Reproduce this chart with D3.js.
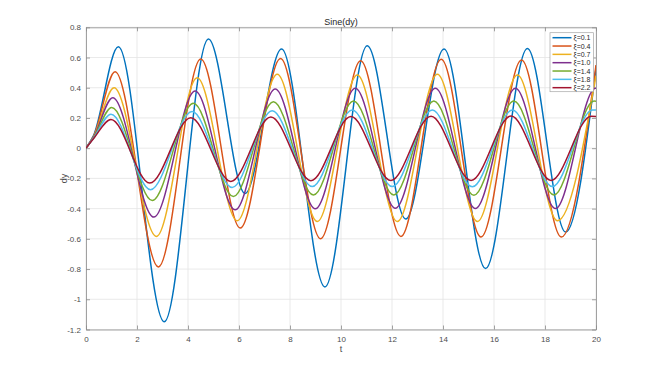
<!DOCTYPE html>
<html>
<head>
<meta charset="utf-8">
<script src="https://cdn.jsdelivr.net/npm/d3@7"></script>
<style>
    body { margin: 0; background: #fff; }
    svg text { font-family: "Liberation Sans", Arial, sans-serif; }
</style>
</head>
<body>
<svg width="660" height="371"></svg>
<script>
// tick values
const xTicks = [0, 2, 4, 6, 8, 10, 12, 14, 16, 18, 20];
const yTicks = [-1.2, -1, -0.8, -0.6, -0.4, -0.2, 0, 0.2, 0.4, 0.6, 0.8];

// legend names (damping ratio)
const names = ["ξ=0.1", "ξ=0.4", "ξ=0.7", "ξ=1.0", "ξ=1.4", "ξ=1.8", "ξ=2.2"];

// start, peaks / troughs and end value, for each damping ratio
const t01 = [0, 0.3, 1.27, 3.07, 4.80, 6.24, 7.67, 9.37, 11.03, 12.54, 14.04, 15.67, 17.31, 18.81, 20];
const y01 = [0, 0.085, 0.671, -1.149, 0.722, -0.30, 0.656, -0.918, 0.678, -0.469, 0.656, -0.797, 0.66, -0.555, 0.53];

const t04 = [0, 0.3, 1.14, 2.84, 4.50, 6.05, 7.63, 9.20, 10.77, 12.35, 13.93, 15.49, 17.08, 18.64, 20];
const y04 = [0, 0.08, 0.506, -0.786, 0.59, -0.528, 0.594, -0.599, 0.579, -0.584, 0.588, -0.588, 0.583, -0.588, 0.55];

const t07 = [0, 0.3, 1.10, 2.76, 4.36, 5.93, 7.50, 9.07, 10.64, 12.21, 13.78, 15.35, 16.92, 18.49, 20];
const y07 = [0, 0.077, 0.40, -0.584, 0.466, -0.48, 0.489, -0.485, 0.484, -0.485, 0.489, -0.485, 0.484, -0.48, 0.48];

const t10 = [0, 0.3, 1.05, 2.66, 4.28, 5.85, 7.42, 8.99, 10.56, 12.13, 13.70, 15.27, 16.84, 18.41, 19.98, 20];
const y10 = [0, 0.074, 0.334, -0.456, 0.378, -0.408, 0.392, -0.401, 0.396, -0.398, 0.396, -0.40, 0.396, -0.40, 0.397, 0.397];

const t14 = [0, 0.3, 1.01, 2.60, 4.21, 5.78, 7.35, 8.92, 10.49, 12.07, 13.64, 15.21, 16.78, 18.35, 19.92, 20];
const y14 = [0, 0.07, 0.27, -0.346, 0.297, -0.32, 0.308, -0.31, 0.313, -0.31, 0.312, -0.312, 0.312, -0.31, 0.312, 0.311];

const t18 = [0, 0.3, 0.98, 2.53, 4.16, 5.73, 7.30, 8.87, 10.44, 12.01, 13.58, 15.15, 16.72, 18.29, 19.86, 20];
const y18 = [0, 0.067, 0.225, -0.275, 0.242, -0.26, 0.248, -0.254, 0.253, -0.254, 0.253, -0.256, 0.253, -0.254, 0.253, 0.252];

const t22 = [0, 0.3, 0.98, 2.50, 4.11, 5.68, 7.25, 8.82, 10.39, 11.96, 13.53, 15.10, 16.67, 18.24, 19.81, 20];
const y22 = [0, 0.064, 0.19, -0.231, 0.202, -0.22, 0.207, -0.215, 0.209, -0.214, 0.212, -0.214, 0.213, -0.214, 0.212, 0.21];

const allT = [t01, t04, t07, t10, t14, t18, t22];
const allY = [y01, y04, y07, y10, y14, y18, y22];

// matlab default line colours
const colors = ["#0072BD", "#D95319", "#EDB120", "#7E2F8E", "#77AC30", "#4DBEEE", "#A2142F"];

const plotLeft = 86, plotRight = 596, plotTop = 27.3, plotBottom = 329.5;

const xScale = d3.scaleLinear()
    .domain([0, 20])
    .range([plotLeft, plotRight]);

const yScale = d3.scaleLinear()
    .domain([-1.2, 0.8])
    .range([plotBottom, plotTop]);

const fmt = v => String(Math.round(v * 10) / 10);

const svg = d3.select("svg");

svg.append("defs").append("clipPath")
    .attr("id", "plotClip")
    .append("rect")
    .attr("x", plotLeft).attr("y", plotTop)
    .attr("width", plotRight - plotLeft).attr("height", plotBottom - plotTop);

// grid
const grid = svg.append("g").attr("class", "grid");
grid.selectAll("line.gx")
    .data(xTicks)
    .enter().append("line")
    .attr("x1", d => xScale(d)).attr("x2", d => xScale(d))
    .attr("y1", plotTop).attr("y2", plotBottom)
    .attr("stroke", "#e3e3e3")
    .attr("stroke-width", 0.8);
grid.selectAll("line.gy")
    .data(yTicks)
    .enter().append("line")
    .attr("y1", d => yScale(d)).attr("y2", d => yScale(d))
    .attr("x1", plotLeft).attr("x2", plotRight)
    .attr("stroke", "#e3e3e3")
    .attr("stroke-width", 0.8);

// axes, ticks pointing inward like matlab
const axisColor = "#8c8c8c";
const textColor = "#4d4d4d";

const xAxis = svg.append("g")
    .attr("transform", `translate(0,${plotBottom})`)
    .call(d3.axisBottom(xScale).tickValues(xTicks).tickFormat(fmt).tickSizeInner(-4).tickSizeOuter(0).tickPadding(7));
const yAxis = svg.append("g")
    .attr("transform", `translate(${plotLeft},0)`)
    .call(d3.axisLeft(yScale).tickValues(yTicks).tickFormat(fmt).tickSizeInner(-4).tickSizeOuter(0).tickPadding(5));
const xTop = svg.append("g")
    .attr("transform", `translate(0,${plotTop})`)
    .call(d3.axisTop(xScale).tickValues(xTicks).tickFormat("").tickSizeInner(-4).tickSizeOuter(0));
const yRight = svg.append("g")
    .attr("transform", `translate(${plotRight},0)`)
    .call(d3.axisRight(yScale).tickValues(yTicks).tickFormat("").tickSizeInner(-4).tickSizeOuter(0));

[xAxis, yAxis, xTop, yRight].forEach(a => {
    a.select(".domain").attr("stroke", axisColor).attr("stroke-width", 0.8);
    a.selectAll(".tick line").attr("stroke", axisColor).attr("stroke-width", 0.8);
    a.selectAll(".tick text")
        .attr("fill", textColor)
        .style("font-size", "8px")
        .style("font-family", "'Liberation Sans', Arial, sans-serif");
});

// curves
const line = d3.line()
    .x(d => xScale(d[0]))
    .y(d => yScale(d[1]))
    .curve(d3.curveMonotoneX);

const curves = svg.append("g").attr("clip-path", "url(#plotClip)");
allT.forEach((ts, i) => {
    const pts = ts.map((t, j) => [t, allY[i][j]]);
    curves.append("path")
        .attr("d", line(pts))
        .attr("fill", "none")
        .attr("stroke", colors[i])
        .attr("stroke-width", 1.5);
});

// labels
svg.append("text")
    .attr("x", (plotLeft + plotRight) / 2)
    .attr("y", 24.5)
    .attr("text-anchor", "middle")
    .attr("fill", "#262626")
    .style("font-size", "9px")
    .text("Sine(dy)");

svg.append("text")
    .attr("x", (plotLeft + plotRight) / 2)
    .attr("y", 352)
    .attr("text-anchor", "middle")
    .attr("fill", textColor)
    .style("font-size", "9px")
    .text("t");

svg.append("text")
    .attr("transform", `translate(67,${(plotTop + plotBottom) / 2}) rotate(-90)`)
    .attr("text-anchor", "middle")
    .attr("fill", textColor)
    .style("font-size", "9px")
    .text("dy");

// legend
const legend = svg.append("g");
legend.append("rect")
    .attr("x", 550).attr("y", 32.7)
    .attr("width", 43.5).attr("height", 59)
    .attr("fill", "#fff")
    .attr("stroke", "#a6a6a6")
    .attr("stroke-width", 0.7);

const items = legend.selectAll("g.item")
    .data(names)
    .enter().append("g")
    .attr("transform", (d, i) => `translate(0,${37.7 + i * 8.33})`);
items.append("line")
    .attr("x1", 552.5).attr("x2", 571.5)
    .attr("y1", 0).attr("y2", 0)
    .attr("stroke", (d, i) => colors[i])
    .attr("stroke-width", 1.5);
items.append("text")
    .attr("x", 573.5)
    .attr("y", 2.5)
    .attr("fill", "#262626")
    .style("font-size", "7px")
    .text(d => d);
</script>
</body>
</html>
